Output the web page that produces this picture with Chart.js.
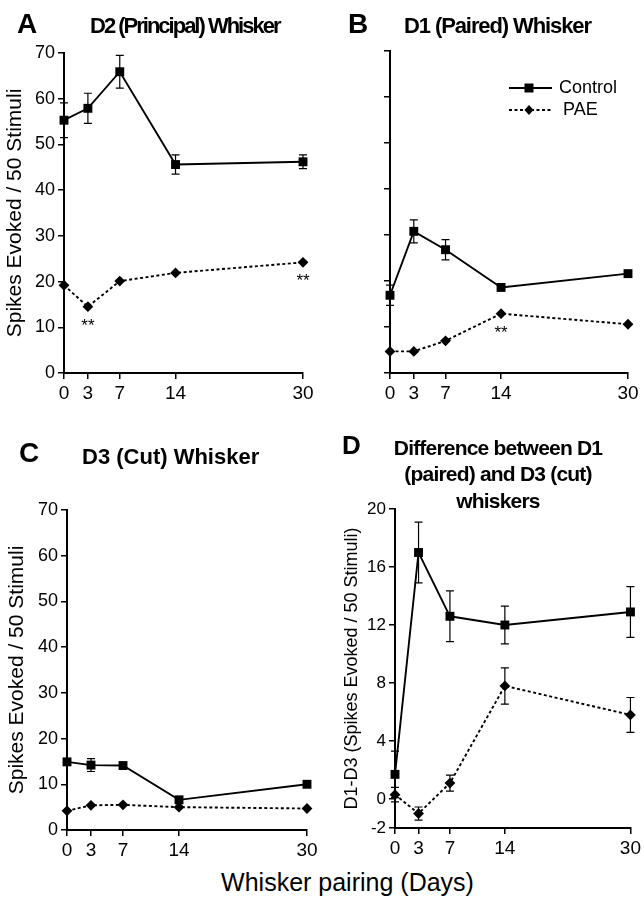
<!DOCTYPE html>
<html><head><meta charset="utf-8">
<script src="https://cdn.jsdelivr.net/npm/chart.js@4.4.1/dist/chart.umd.min.js"></script>
<style>
body{margin:0;background:#fff;width:644px;height:900px;position:relative;overflow:hidden;font-family:"Liberation Sans",Arial,Helvetica,sans-serif;}
canvas{position:absolute;}
.t{position:absolute;font-weight:bold;color:#000;white-space:nowrap;line-height:1;}
</style></head><body>
<canvas id="cA" width="322" height="410" style="left:0;top:0"></canvas>
<canvas id="cB" width="322" height="410" style="left:322px;top:0"></canvas>
<canvas id="cC" width="322" height="440" style="left:0;top:420px"></canvas>
<canvas id="cD" width="322" height="440" style="left:322px;top:420px"></canvas>

<div class="t" style="left:17px;top:9.5px;font-size:28px">A</div>
<div class="t" style="left:90px;top:14.5px;font-size:22px;letter-spacing:-2px">D2 (Principal) Whisker</div>
<div class="t" style="left:348px;top:9.5px;font-size:28px">B</div>
<div class="t" style="left:404px;top:14.5px;font-size:22px;letter-spacing:-1.1px">D1 (Paired) Whisker</div>
<div class="t" style="left:19px;top:438.5px;font-size:28px">C</div>
<div class="t" style="left:82px;top:445.5px;font-size:22px">D3 (Cut) Whisker</div>
<div class="t" style="left:342px;top:431.5px;font-size:26px">D</div>
<div class="t" style="left:378px;width:240px;top:434.5px;font-size:21px;line-height:26.5px;text-align:center;letter-spacing:-0.8px">Difference between D1<br>(paired) and D3 (cut)<br>whiskers</div>
<div style="position:absolute;left:0;width:695px;text-align:center;top:870px;font-size:25px;line-height:1;color:#000">Whisker pairing (Days)</div>

<script>
const FONT = '"Liberation Sans", Arial, Helvetica, sans-serif';
const days = [0, 3, 7, 14, 30];
const xTicks = [0, 3, 7, 14, 30];
const yTicks70 = [0, 10, 20, 30, 40, 50, 60, 70];
const yTicksD = [-2, 0, 4, 8, 12, 16, 20];

// Panel A: D2 (Principal) Whisker
const aControl = [55.3, 57.9, 65.9, 45.6, 46.2];
const aControlErr = [3.8, 3.3, 3.6, 2.1, 1.5];
const aPAE = [19.2, 14.5, 20.1, 21.9, 24.2];
const aPAEErr = [0, 0, 0, 0, 0];
const aSig = [false, true, false, false, true];

// Panel B: D1 (Paired) Whisker
const bControl = [16.9, 30.8, 26.8, 18.6, 21.6];
const bControlErr = [2.2, 2.5, 2.2, 0, 0];
const bPAE = [4.7, 4.7, 7.0, 12.9, 10.6];
const bPAEErr = [0, 0, 0, 0, 0];
const bSig = [false, false, false, true, false];

// Panel C: D3 (Cut) Whisker
const cControl = [14.9, 14.2, 14.1, 6.6, 10.0];
const cControlErr = [0, 1.4, 0, 0, 0];
const cPAE = [4.2, 5.4, 5.5, 5.0, 4.7];
const cPAEErr = [0, 0, 0, 0, 0];

// Panel D: Difference D1 - D3
const dControl = [1.7, 17.0, 12.6, 12.0, 12.9];
const dControlErr = [1.6, 2.1, 1.75, 1.3, 1.75];
const dPAE = [0.3, -1.0, 1.1, 7.8, 5.8];
const dPAEErr = [0.5, 0.45, 0.55, 1.25, 1.2];

const seriesNames = ['Control', 'PAE'];

function pts(vals) { return days.map((d, i) => ({x: d, y: vals[i]})); }

const errPlugin = {
  id: 'errbars',
  beforeDatasetsDraw(chart) {
    const {ctx} = chart; const x = chart.scales.x, y = chart.scales.y;
    ctx.save(); ctx.strokeStyle = '#000'; ctx.lineWidth = 1.2;
    chart.data.datasets.forEach(ds => {
      if (!ds.err) return;
      ds.data.forEach((p, i) => {
        const e = ds.err[i]; if (!e) return;
        const px = x.getPixelForValue(p.x);
        const y1 = y.getPixelForValue(p.y + e), y2 = y.getPixelForValue(p.y - e);
        ctx.beginPath();
        ctx.moveTo(px, y1); ctx.lineTo(px, y2);
        ctx.moveTo(px - 4, y1); ctx.lineTo(px + 4, y1);
        ctx.moveTo(px - 4, y2); ctx.lineTo(px + 4, y2);
        ctx.stroke();
      });
    });
    ctx.restore();
  },
  afterDatasetsDraw(chart) {
    const {ctx} = chart; const x = chart.scales.x, y = chart.scales.y;
    ctx.save(); ctx.fillStyle = '#000'; ctx.font = '17px ' + FONT;
    ctx.textAlign = 'center'; ctx.textBaseline = 'alphabetic';
    chart.data.datasets.forEach(ds => {
      if (!ds.sig) return;
      ds.data.forEach((p, i) => {
        if (!ds.sig[i]) return;
        ctx.fillText('**', x.getPixelForValue(p.x), y.getPixelForValue(p.y) + 24);
      });
    });
    ctx.restore();
  }
};

const legendPlugin = {
  id: 'customLegend',
  afterDraw(chart) {
    if (!chart.options.plugins.customLegend || !chart.options.plugins.customLegend.show) return;
    const ctx = chart.ctx;
    ctx.save();
    ctx.strokeStyle = '#000'; ctx.fillStyle = '#000';
    ctx.lineWidth = 1.8; ctx.setLineDash([]);
    ctx.beginPath(); ctx.moveTo(187, 88); ctx.lineTo(230, 88); ctx.stroke();
    ctx.fillRect(207 - 4.5, 88 - 4.5, 9, 9);
    ctx.setLineDash([3, 2.5]);
    ctx.beginPath(); ctx.moveTo(187, 110); ctx.lineTo(230, 110); ctx.stroke();
    ctx.setLineDash([]);
    ctx.beginPath(); ctx.moveTo(207, 105); ctx.lineTo(211.5, 110); ctx.lineTo(207, 115); ctx.lineTo(202.5, 110); ctx.closePath(); ctx.fill();
    ctx.font = '18px ' + FONT; ctx.textBaseline = 'middle'; ctx.textAlign = 'left';
    ctx.fillText(seriesNames[0], 237, 88);
    ctx.fillText(seriesNames[1], 241, 110);
    ctx.restore();
  }
};

function makeChart(id, cfg) {
  const datasets = [
    {label: seriesNames[0], data: pts(cfg.control), err: cfg.controlErr, sig: null,
     borderColor: '#000', backgroundColor: '#000', borderWidth: 1.9,
     pointStyle: 'rect', pointRadius: 6.3, pointBorderWidth: 0, clip: false, tension: 0},
    {label: seriesNames[1], data: pts(cfg.pae), err: cfg.paeErr, sig: cfg.sig || null,
     borderColor: '#000', backgroundColor: '#000', borderWidth: 1.9, borderDash: [3, 2.5],
     pointStyle: 'rectRot', pointRadius: 5.4, pointBorderWidth: 0, clip: false, tension: 0}
  ];
  const yScale = {
    type: 'linear', min: cfg.ymin, max: cfg.ymax,
    afterBuildTicks: s => { s.ticks = cfg.yTicks.map(v => ({value: v})); },
    afterFit: s => { s.width = cfg.yw; },
    ticks: {font: {size: cfg.yTickSize || 18, family: FONT}, color: '#000', padding: 3,
            callback: v => cfg.yLabels ? String(v) : ''},
    grid: {drawOnChartArea: false, drawTicks: true, tickLength: 6, color: '#000', lineWidth: 1.5},
    border: {color: '#000', width: 2},
    title: cfg.ytitle ? {display: true, text: cfg.ytitle, color: '#000',
            font: {size: cfg.ytitleSize, family: FONT}, padding: {top: cfg.ytitlePad, bottom: 0}} : {display: false}
  };
  return new Chart(document.getElementById(id), {
    type: 'line',
    data: {datasets},
    options: {
      responsive: false, animation: false, events: [], devicePixelRatio: 1,
      layout: {padding: {top: cfg.padTop, right: cfg.padRight, left: 0, bottom: 0}},
      plugins: {legend: {display: false}, tooltip: {enabled: false}, customLegend: {show: !!cfg.legend}},
      scales: {
        x: {type: 'linear', min: 0, max: 30,
            afterBuildTicks: s => { s.ticks = xTicks.map(v => ({value: v})); },
            afterFit: s => { s.height = cfg.xh; },
            ticks: {font: {size: 19, family: FONT}, color: '#000', padding: 3, maxRotation: 0, autoSkip: false},
            grid: {drawOnChartArea: false, drawTicks: true, tickLength: 6, color: '#000', lineWidth: 1.5},
            border: {color: '#000', width: 2}},
        y: yScale
      }
    },
    plugins: [errPlugin, legendPlugin]
  });
}

makeChart('cA', {control: aControl, controlErr: aControlErr, pae: aPAE, paeErr: aPAEErr, sig: aSig,
  ymin: 0, ymax: 70, yTicks: yTicks70, yLabels: true, yw: 64, xh: 37, padTop: 53, padRight: 19,
  ytitle: 'Spikes Evoked / 50 Stimuli', ytitleSize: 21, ytitlePad: 2.5});
makeChart('cB', {control: bControl, controlErr: bControlErr, pae: bPAE, paeErr: bPAEErr, sig: bSig,
  ymin: 0, ymax: 70, yTicks: yTicks70, yLabels: false, yw: 68, xh: 37, padTop: 51, padRight: 16, legend: true});
makeChart('cC', {control: cControl, controlErr: cControlErr, pae: cPAE, paeErr: cPAEErr, sig: null,
  ymin: 0, ymax: 70, yTicks: yTicks70, yLabels: true, yw: 67, xh: 30, padTop: 90, padRight: 15,
  ytitle: 'Spikes Evoked / 50 Stimuli', ytitleSize: 21, ytitlePad: 4.5});
makeChart('cD', {control: dControl, controlErr: dControlErr, pae: dPAE, paeErr: dPAEErr, sig: null,
  ymin: -2, ymax: 20, yTicks: yTicksD, yLabels: true, yTickSize: 17, yw: 73, xh: 32, padTop: 89, padRight: 11,
  ytitle: 'D1-D3 (Spikes Evoked / 50 Stimuli)', ytitleSize: 18, ytitlePad: 19});
</script>
</body></html>
